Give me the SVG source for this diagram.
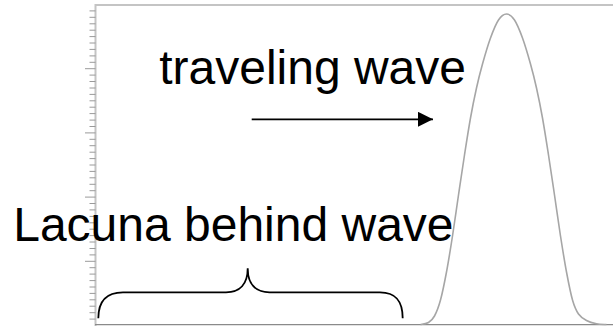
<svg xmlns="http://www.w3.org/2000/svg" width="613" height="326" viewBox="0 0 613 326">
<defs>
<style>
.lbl{font-family:"Liberation Sans",Arial,sans-serif;font-size:48px;fill:#000}
.tick{stroke:#9a9a9a;stroke-width:1;fill:none}
.frame{stroke:#c4c4c4;stroke-width:2;fill:none}
.base{stroke:#8a8a8a;stroke-width:1.4;fill:none}
.wave{stroke:#a6a6a6;stroke-width:1.6;fill:none}
.conn{stroke:#000;stroke-width:1.8;fill:none}
</style>
<marker id="ah" markerWidth="15" markerHeight="15" viewBox="0 0 15 15" refX="15" refY="7.5" orient="auto" markerUnits="userSpaceOnUse">
<path d="M0,0 L15,7.5 L0,15 Z" fill="#000"/>
</marker>
</defs>
<rect width="613" height="326" fill="#fff"/>
<g id="axes">
<path class="frame" d="M95.5,326 V5 H613"/>
<path class="base" d="M95,324.6 H613"/>
<path class="tick" d="M89.5,10.9h6M89.5,17.3h6M89.5,23.8h6M89.5,30.2h6M89.5,36.6h6M89.5,43h6M89.5,49.4h6M89.5,55.9h6M89.5,62.3h6M85,68.7h10.5M89.5,75.1h6M89.5,81.5h6M89.5,88h6M89.5,94.4h6M89.5,100.8h6M89.5,107.2h6M89.5,113.6h6M89.5,120.1h6M89.5,126.5h6M85,132.9h10.5M89.5,139.3h6M89.5,145.7h6M89.5,152.2h6M89.5,158.6h6M89.5,165h6M89.5,171.4h6M89.5,177.8h6M89.5,184.3h6M89.5,190.7h6M85,197.1h10.5M89.5,203.5h6M89.5,209.9h6M89.5,216.4h6M89.5,222.8h6M89.5,229.2h6M89.5,235.6h6M89.5,242h6M89.5,248.5h6M89.5,254.9h6M85,261.3h10.5M89.5,267.7h6M89.5,274.1h6M89.5,280.6h6M89.5,287h6M89.5,293.4h6M89.5,299.8h6M89.5,306.2h6M89.5,312.7h6M89.5,319.1h6"/>
</g>
<g id="wave">
<path class="wave" d="M420.5,324.5 C423.5,324.17 426.17,323.92 428.5,322.5 C430.83,321.08 432.5,319.75 434.5,316 C436.5,312.25 438.5,307.33 440.5,300 C442.5,292.67 444.5,282.67 446.5,272 C448.5,261.33 450.5,248.83 452.5,236 C454.5,223.17 456.5,208.5 458.5,195 C460.5,181.5 462.5,167.83 464.5,155 C466.5,142.17 468.5,129.17 470.5,118 C472.5,106.83 474.5,97 476.5,88 C478.5,79 480.17,72.33 482.5,64 C484.83,55.67 487.83,45.33 490.5,38 C493.17,30.67 495.83,24 498.5,20 C501.17,16 503.83,14 506.5,14 C509.17,14 511.83,16 514.5,20 C517.17,24 519.83,30.67 522.5,38 C525.17,45.33 528.17,55.67 530.5,64 C532.83,72.33 534.5,79 536.5,88 C538.5,97 540.5,106.83 542.5,118 C544.5,129.17 546.5,142.17 548.5,155 C550.5,167.83 552.5,181.5 554.5,195 C556.5,208.5 558.5,223.17 560.5,236 C562.5,248.83 564.5,261.33 566.5,272 C568.5,282.67 570.5,293 572.5,300 C574.5,307 576.17,310.58 578.5,314 C580.83,317.42 583.5,318.87 586.5,320.5 C589.5,322.13 593.17,323.13 596.5,323.8 C599.83,324.47 603.17,324.38 606.5,324.5"/>
</g>
<g id="node-traveling-wave">
<text class="lbl" x="159.2" y="84">traveling wave</text>
</g>
<g id="node-lacuna">
<text class="lbl" x="13.2" y="241">Lacuna behind wave</text>
</g>
<g id="connectors">
<path id="arrow" class="conn" d="M251.7,119.3 H433" marker-end="url(#ah)"/>
<path id="brace" class="conn" d="M98.3,318.3 C98.3,301 106,292.3 123,292.3 L226,292.3 C240,292.3 247.7,284 247.7,268.3 C247.7,284 255.5,292.3 269.5,292.3 L380,292.3 C396,292.3 402.7,301 402.7,318.3"/>
</g>
</svg>
